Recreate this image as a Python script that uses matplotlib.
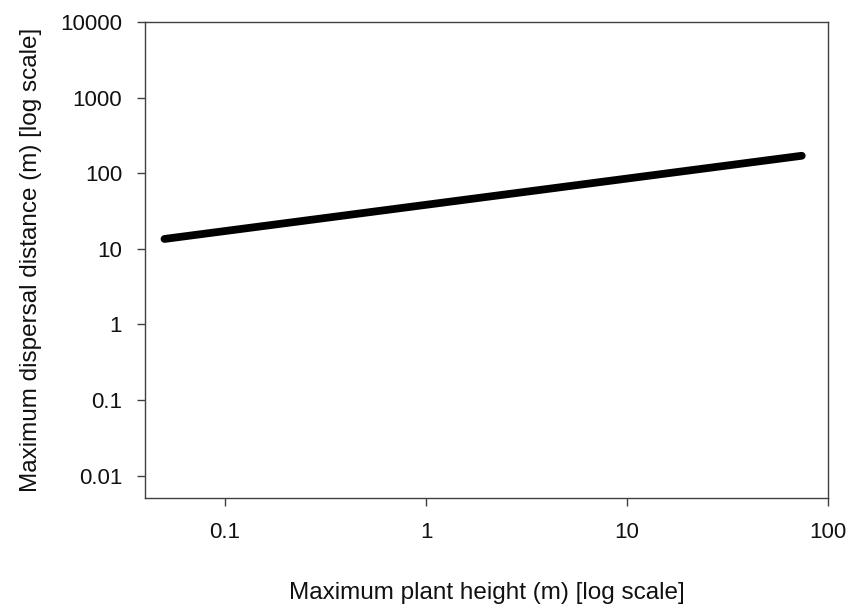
import matplotlib
matplotlib.use("Agg")
import matplotlib.pyplot as plt
import numpy as np
from matplotlib.ticker import FixedLocator, NullLocator, FixedFormatter

plt.rcParams['font.family'] = ['Liberation Sans', 'DejaVu Sans']

# Data: regression line endpoints
height = [0.05, 74]
distance = [13.5, 170]

xticks = [0.1, 1, 10, 100]
xticklabels = ["0.1", "1", "10", "100"]
yticks = [0.01, 0.1, 1, 10, 100, 1000, 10000]
yticklabels = ["0.01", "0.1", "1", "10", "100", "1000", "10000"]

fig = plt.figure(figsize=(8.49, 6.07), dpi=100)
ax = fig.add_axes([0.1708, 0.18, 0.8045, 0.7838])

ax.plot(height, distance, color='black', linewidth=5.6, solid_capstyle='round')
ax.set_xscale('log')
ax.set_yscale('log')
ax.set_xlim(0.04, 100)
ax.set_ylim(0.0051, 10000)

ax.xaxis.set_major_locator(FixedLocator(xticks))
ax.xaxis.set_major_formatter(FixedFormatter(xticklabels))
ax.xaxis.set_minor_locator(NullLocator())
ax.yaxis.set_major_locator(FixedLocator(yticks))
ax.yaxis.set_major_formatter(FixedFormatter(yticklabels))
ax.yaxis.set_minor_locator(NullLocator())

for s in ax.spines.values():
    s.set_color('#404040')
    s.set_linewidth(1.0)
ax.tick_params(axis='both', direction='out', length=5.5, width=1.0, color='#404040',
               labelsize=16, labelcolor='#111111')
ax.tick_params(axis='x', pad=12)
ax.tick_params(axis='y', pad=11)

ax.set_xlabel("Maximum plant height (m) [log scale]", fontsize=17.5, color='#111111', labelpad=28)
ax.set_ylabel("Maximum dispersal distance (m) [log scale]", fontsize=17.5, color='#111111', labelpad=13)

fig.savefig("out.png", dpi=100)
